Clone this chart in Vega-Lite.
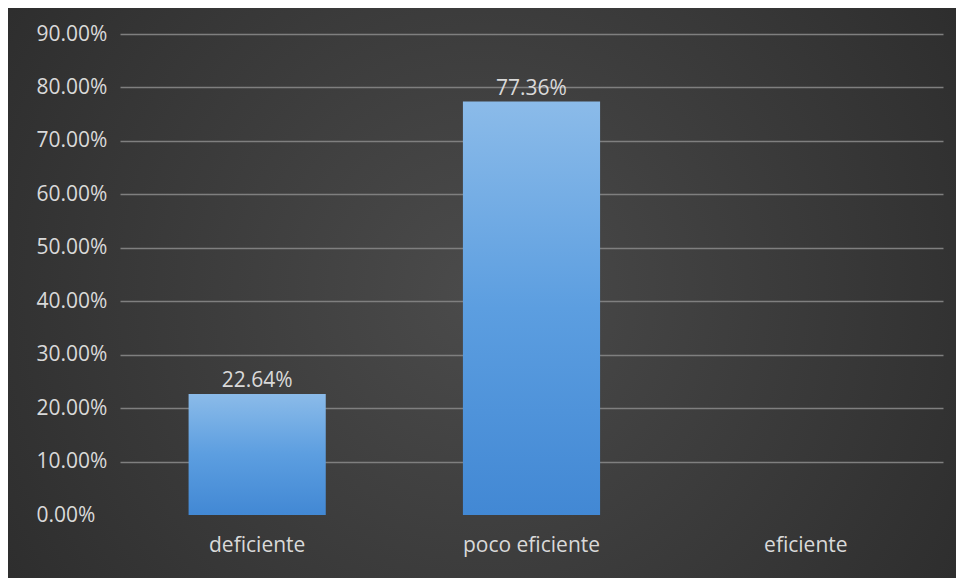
{
  "$schema": "https://vega.github.io/schema/vega-lite/v6.json",
  "width": 948,
  "height": 570,
  "autosize": {"type": "none"},
  "padding": {"left": 8, "top": 8, "right": 0, "bottom": 0},
  "background": "#ffffff",
  "view": {
    "stroke": null,
    "fill": {
      "gradient": "radial",
      "x1": 0.5, "y1": 0.5, "r1": 0,
      "x2": 0.5, "y2": 0.5, "r2": 0.72,
      "stops": [
        {"offset": 0, "color": "#4b4b4b"},
        {"offset": 1, "color": "#272727"}
      ]
    }
  },
  "data": {
    "values": [
      {"categoria": "deficiente", "porcentaje": 0.2264},
      {"categoria": "poco eficiente", "porcentaje": 0.7736},
      {"categoria": "eficiente", "porcentaje": 0}
    ]
  },
  "encoding": {
    "x": {
      "field": "categoria",
      "type": "nominal",
      "sort": null,
      "scale": {
        "domain": ["deficiente", "poco eficiente", "eficiente"],
        "range": [112, 935],
        "paddingInner": 0.5,
        "paddingOuter": 0.25
      },
      "axis": {
        "title": null,
        "offset": -63,
        "domain": false,
        "ticks": false,
        "tickSize": 0,
        "grid": false,
        "labelPadding": 19,
        "labelAngle": 0,
        "labelColor": "#d9d9d9",
        "labelFont": "Open Sans",
        "labelFontSize": 21
      }
    },
    "y": {
      "field": "porcentaje",
      "type": "quantitative",
      "scale": {"domain": [0, 0.9], "range": [507, 26], "nice": false},
      "axis": {
        "title": null,
        "format": ".2%",
        "values": [0, 0.1, 0.2, 0.3, 0.4, 0.5, 0.6, 0.7, 0.8, 0.9],
        "offset": -112,
        "domain": false,
        "ticks": false,
        "tickSize": 0,
        "labelAlign": "left",
        "labelPadding": 84,
        "labelColor": "#d9d9d9",
        "labelFont": "Open Sans",
        "labelFontSize": 21,
        "gridColor": "#7f7f7f",
        "gridWidth": 1.5,
        "gridOpacity": {"condition": {"test": "datum.value === 0", "value": 0}, "value": 1}
      }
    }
  },
  "layer": [
    {
      "mark": {
        "type": "bar",
        "color": {
          "gradient": "linear",
          "x1": 0, "y1": 0, "x2": 0, "y2": 1,
          "stops": [
            {"offset": 0, "color": "#8bbbe9"},
            {"offset": 0.5, "color": "#5c9ee0"},
            {"offset": 1, "color": "#4288d4"}
          ]
        }
      }
    },
    {
      "transform": [{"filter": "datum.porcentaje > 0"}],
      "mark": {
        "type": "text",
        "baseline": "bottom",
        "dy": -3,
        "font": "Open Sans",
        "fontSize": 21,
        "color": "#d9d9d9"
      },
      "encoding": {
        "text": {"field": "porcentaje", "type": "quantitative", "format": ".2%"}
      }
    }
  ]
}
